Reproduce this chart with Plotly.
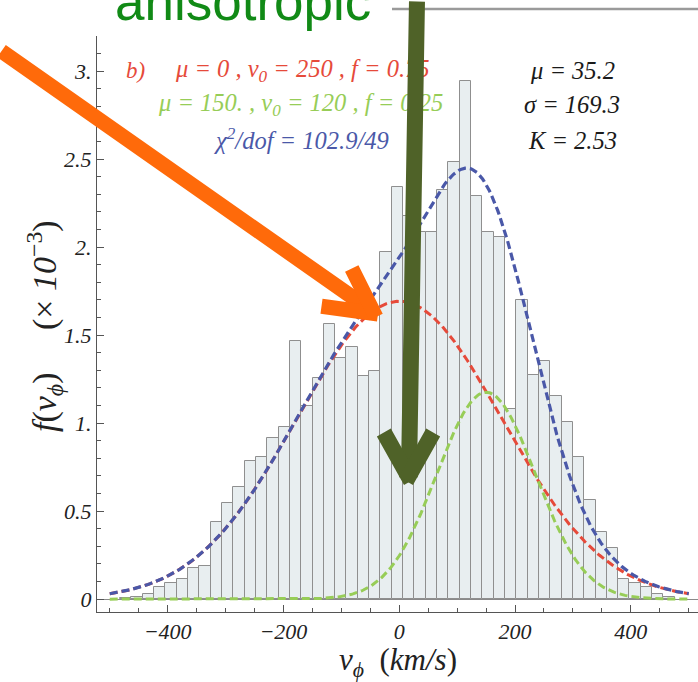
import numpy as np
import plotly.graph_objects as go

# ---------------- data ----------------
# histogram of v_phi (bins of ~19.55 km/s, first left edge at -482.1 km/s), values in units of 1e-3
bin_start = -482.1
bin_width = 19.55
bar_heights = [0.006, 0.015,
               0.03, 0.07, 0.09, 0.114, 0.176, 0.186, 0.441, 0.544, 0.638, 0.786,
               0.809, 0.913, 0.981, 1.468, 1.098, 1.254, 1.566, 1.373, 1.43, 1.269,
               1.294, 1.975, 2.343,
               2.18, 2.087, 2.087, 2.327, 2.485, 2.943, 2.29, 2.087, 2.059, 1.083,
               1.699, 1.273, 1.354, 1.153, 1.008, 0.809, 0.5625, 0.383, 0.288, 0.115,
               0.092, 0.07, 0.032, 0.013]

# fitted components (values from the figure text)
comp_mu = [0.0, 150.0]
comp_v0 = [250.0, 120.0]
comp_f = [0.75, 0.25]

x_ticks = [-400, -200, 0, 200, 400]
x_ticklabels = ["\u2212400", "\u2212200", "0", "200", "400"]
y_ticks = [0, 0.5, 1.0, 1.5, 2.0, 2.5, 3.0]
y_ticklabels = ["0", "0.5", "1.", "1.5", "2.", "2.5", "3."]

stats_lines = ["\u03bc = 35.2", "\u03c3 = 169.3", "K = 2.53"]

# ---------------- figure ----------------
W, H = 698, 682
ML, MR, MT, MB = 97, 0, 36, 70
PW, PH = W - ML - MR, H - MT - MB

def px(x):
    return (x - ML) / PW

def py(y):
    return (MT + PH - y) / PH

RED = "#e64a3a"
GREEN = "#97cd57"
BLUE = "#4a58a8"
SERIF = "Liberation Serif"

centers = [bin_start + bin_width * (i + 0.5) for i in range(len(bar_heights))]

fig = go.Figure()
fig.add_trace(go.Bar(x=centers, y=bar_heights, width=bin_width,
                     marker=dict(color="#e8eef0", line=dict(color="#8f8f8f", width=1)),
                     showlegend=False, hoverinfo="skip"))

v = np.linspace(-500, 500, 501)
comps = []
for mu, v0, f in zip(comp_mu, comp_v0, comp_f):
    comps.append(1000.0 * f / (np.sqrt(np.pi) * v0) * np.exp(-((v - mu) / v0) ** 2))
total = comps[0] + comps[1]

dash = "8px,4px"
fig.add_trace(go.Scatter(x=v, y=comps[0], mode="lines", line=dict(color=RED, width=3, dash=dash),
                         showlegend=False, hoverinfo="skip"))
fig.add_trace(go.Scatter(x=v, y=total, mode="lines", line=dict(color=BLUE, width=3.2, dash=dash),
                         showlegend=False, hoverinfo="skip"))
fig.add_trace(go.Scatter(x=v, y=comps[1], mode="lines", line=dict(color=GREEN, width=3, dash=dash),
                         showlegend=False, hoverinfo="skip"))

axis_col = "#555555"
fig.update_xaxes(range=[-522, 516], showline=True, linecolor=axis_col, linewidth=1,
                 ticks="inside", ticklen=7, tickcolor=axis_col, tickwidth=1,
                 tickvals=x_ticks, ticktext=["<i>%s</i>" % t for t in x_ticklabels],
                 tickfont=dict(family=SERIF, size=22, color="#222222"),
                 minor=dict(ticks="inside", ticklen=4, tickcolor=axis_col, dtick=50, tick0=0),
                 showgrid=False, zeroline=False, automargin=False)
fig.update_yaxes(range=[-0.073, 3.2], showline=True, linecolor=axis_col, linewidth=1,
                 ticks="inside", ticklen=7, tickcolor=axis_col, tickwidth=1,
                 tickvals=y_ticks, ticktext=["<i>%s</i>" % t for t in y_ticklabels],
                 tickfont=dict(family=SERIF, size=22, color="#222222"),
                 minor=dict(ticks="inside", ticklen=4, tickcolor=axis_col, dtick=0.1, tick0=0),
                 showgrid=False, zeroline=True, zerolinecolor="#8a8a8a", zerolinewidth=1,
                 automargin=False)

ann = []
def text(x, y, s, size, color, family=SERIF, xanchor="center"):
    ann.append(dict(x=px(x), y=py(y), xref="paper", yref="paper", text=s, showarrow=False,
                    xanchor=xanchor, yanchor="middle",
                    font=dict(family=family, size=size, color=color)))

text(135, 70, "<i>b)</i>", 23, RED)
text(302, 70, "<i>\u03bc = 0 , v<sub>0</sub> = 250 , f = 0.75</i>", 24.5, RED)
text(300, 104, "<i>\u03bc = 150. , v<sub>0</sub> = 120 , f = 0.25</i>", 24.5, GREEN)
text(301, 139, "<i>\u03c7<sup>2</sup>/dof = 102.9/49</i>", 24.5, BLUE)
for i, s in enumerate(stats_lines):
    text(572, 70 + 35 * i, "<i>%s</i>" % s, 24.5, "#1a1a1a")

# axis titles
text(398, 662, "<i>v<sub>\u03d5</sub></i>\u00a0\u00a0(<i>km/s</i>)", 31, "#222222")
ann.append(dict(x=px(44), y=py(326), xref="paper", yref="paper",
                text="<i>f</i>(<i>v<sub>\u03d5</sub></i>)\u00a0\u00a0\u00a0\u00a0\u00a0(\u00d7 <i>10</i><sup>\u22123</sup>)",
                showarrow=False, textangle=-90, xanchor="center", yanchor="middle",
                font=dict(family=SERIF, size=34, color="#222222")))

# slide overlay: label and arrows
ann.append(dict(x=px(243), y=py(20), xref="paper", yref="paper", text="anisotropic",
                showarrow=False, xanchor="center", yanchor="bottom", yshift=-13,
                font=dict(family="Liberation Sans", size=53, color="#118a16")))

def line(x0, y0, x1, y1, color, width):
    ann.append(dict(x=px(x1), y=py(y1), xref="paper", yref="paper",
                    ax=x0 - x1, ay=y0 - y1, axref="pixel", ayref="pixel",
                    text="", showarrow=True, arrowhead=0, arrowwidth=width,
                    arrowcolor=color, standoff=0, startstandoff=0))

ORANGE = "#ff6a0a"
OLIVE = "#4f6228"
line(-12, 50, 375, 313, ORANGE, 15)
line(320, 306, 378, 314, ORANGE, 15)
line(351, 267, 376, 317, ORANGE, 15)
line(417, -10, 409, 472, OLIVE, 16)
line(383, 431, 411, 481, OLIVE, 16)
line(434, 431, 406, 481, OLIVE, 16)

fig.update_layout(width=W, height=H, autosize=False,
                  margin=dict(l=ML, r=MR, t=MT, b=MB),
                  paper_bgcolor="white", plot_bgcolor="white",
                  bargap=0, annotations=ann,
                  shapes=[dict(type="line", xref="paper", yref="paper",
                               x0=px(392), x1=px(705), y0=py(9), y1=py(9),
                               line=dict(color="#9a9a9a", width=2.5))])

fig.write_html("out.html", config={"displayModeBar": False},
               post_script="document.body.style.margin='0px';")
